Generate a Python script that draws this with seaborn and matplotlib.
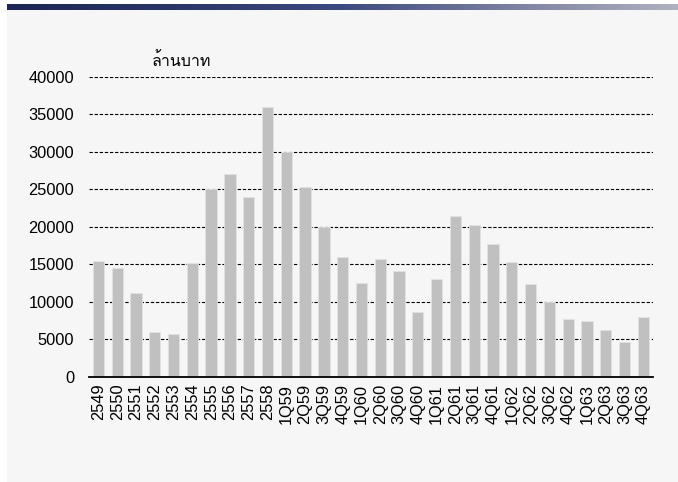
import numpy as np
import pandas as pd
import matplotlib
matplotlib.use("Agg")
import matplotlib.pyplot as plt
import seaborn as sns
from matplotlib import font_manager as fm
from matplotlib.ft2font import FT2Font
from matplotlib.colors import LinearSegmentedColormap
from matplotlib.patches import Rectangle

categories = ["2549", "2550", "2551", "2552", "2553", "2554", "2555", "2556", "2557", "2558",
              "1Q59", "2Q59", "3Q59", "4Q59", "1Q60", "2Q60", "3Q60", "4Q60",
              "1Q61", "2Q61", "3Q61", "4Q61", "1Q62", "2Q62", "3Q62", "4Q62",
              "1Q63", "2Q63", "3Q63", "4Q63"]
values = [15400, 14450, 11200, 5900, 5700, 15100, 25000, 27000, 24000, 35900,
          30000, 25300, 20000, 16000, 12550, 15700, 14050, 8650,
          13000, 21400, 20200, 17650, 15250, 12400, 9900, 7700,
          7400, 6200, 4650, 7950]
yticks = [0, 5000, 10000, 15000, 20000, 25000, 30000, 35000, 40000]
unit_label = "ล้านบาท"

sns.set_theme(style="white")
plt.rcParams['font.family'] = ['Liberation Sans', 'DejaVu Sans']


def find_thai_font():
    for f in fm.fontManager.ttflist:
        try:
            if 0x0E25 in FT2Font(f.fname).get_charmap():
                return f.name
        except Exception:
            pass
    return None


thai = find_thai_font()
thai_family = [thai, 'Liberation Sans', 'DejaVu Sans'] if thai else ['Liberation Sans', 'DejaVu Sans']

W, H = 678, 482
fig = plt.figure(figsize=(W / 100, H / 100), dpi=100)
fig.patch.set_facecolor("white")

panel_col = "#f6f6f6"
panel = Rectangle((7 / W, 0), 1 - 7 / W, (H - 10) / H, transform=fig.transFigure,
                  facecolor=panel_col, edgecolor="none", zorder=-10)
fig.patches.append(panel)

# gradient header bar
gax = fig.add_axes([7 / W, (H - 10) / H, 1 - 7 / W, 6 / H])
cmap = LinearSegmentedColormap.from_list("hdr", ["#1c2656", "#2a3668", "#3d4a80", "#7a80a0", "#b0b2c0"])
gax.imshow(np.linspace(0, 1, 256)[None, :], aspect="auto", cmap=cmap, extent=[0, 1, 0, 1])
gax.set_axis_off()

ax = fig.add_axes([89 / W, (H - 376.7) / H, (652.7 - 89) / W, 300 / H])
ax.set_facecolor(panel_col)

df = pd.DataFrame({"cat": categories, "val": values})
sns.barplot(data=df, x="cat", y="val", color="#c0c0c0", width=0.6, ax=ax,
            edgecolor="#e2e2e2", linewidth=0.6, saturation=1, zorder=3)

ax.set_ylim(0, 40000)
ax.set_xlim(-0.5, len(categories) - 0.5)
ax.set_yticks(yticks)
ax.set_yticklabels([str(v) for v in yticks])
ax.set_xlabel("")
ax.set_ylabel("")
for y in yticks[1:]:
    ax.axhline(y, color="black", lw=0.8, ls=(0, (3, 1.6)), zorder=1)
for s in ["top", "right", "left"]:
    ax.spines[s].set_visible(False)
ax.spines["bottom"].set_color("black")
ax.spines["bottom"].set_linewidth(1.3)
ax.spines["bottom"].set_zorder(5)
ax.tick_params(axis="both", length=0, labelsize=11.8, colors="black")
ax.tick_params(axis="y", pad=10.6)
ax.tick_params(axis="x", pad=5)
plt.setp(ax.get_xticklabels(), rotation=90)

ax.text(0.112, 1.05, unit_label, transform=ax.transAxes, ha="left", va="center",
        fontsize=11.5, family=thai_family, color="black")

fig.savefig("out.png", dpi=100, facecolor=fig.get_facecolor())
